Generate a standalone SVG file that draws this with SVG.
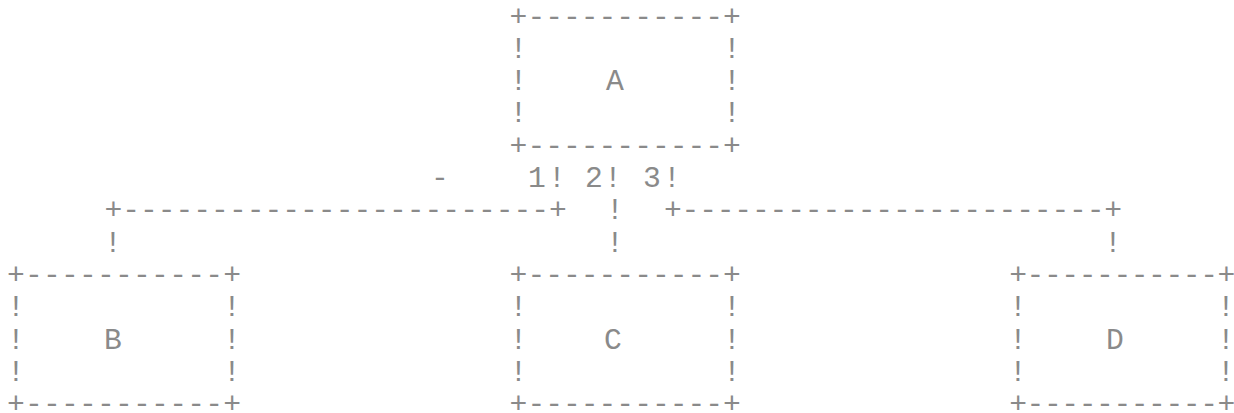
<svg xmlns="http://www.w3.org/2000/svg" width="1234" height="413" viewBox="0 0 1234 413">
<style>
text { font-family: "Liberation Mono", "DejaVu Sans Mono", monospace; font-size: 29.7px; fill: #8a8a8a; }
.m { text-anchor: middle; }
</style>
<rect width="1234" height="413" fill="#ffffff"/>
<g id="node-A">
<text x="509.6" y="25.5" textLength="231.3" lengthAdjust="spacing">+-----------+</text>
<text class="m" x="518.5" y="57.8">!</text>
<text class="m" x="732" y="57.8">!</text>
<text class="m" x="518.5" y="90.1">!</text>
<text class="m" x="732" y="90.1">!</text>
<text class="m" x="518.5" y="122.4">!</text>
<text class="m" x="732" y="122.4">!</text>
<text class="m" x="615" y="90.1">A</text>
<text x="509.6" y="154.7" textLength="231.3" lengthAdjust="spacing">+-----------+</text>
</g>
<g id="connectors">
<text class="m" x="440" y="187">-</text>
<text class="m" x="537 557" y="187">1!</text>
<text class="m" x="594 613" y="187">2!</text>
<text class="m" x="652 672" y="187">3!</text>
<text x="104.4" y="219.3" textLength="462.5" lengthAdjust="spacing">+------------------------+</text>
<text class="m" x="615" y="219.3">!</text>
<text x="663.9" y="219.3" textLength="458.2" lengthAdjust="spacing">+------------------------+</text>
<text class="m" x="113" y="251.6">!</text>
<text class="m" x="615" y="251.6">!</text>
<text class="m" x="1113" y="251.6">!</text>
</g>
<g id="node-B">
<text x="7" y="283.9" textLength="234" lengthAdjust="spacing">+-----------+</text>
<text class="m" x="16" y="316.2">!</text>
<text class="m" x="232" y="316.2">!</text>
<text class="m" x="16" y="348.5">!</text>
<text class="m" x="232" y="348.5">!</text>
<text class="m" x="16" y="380.8">!</text>
<text class="m" x="232" y="380.8">!</text>
<text class="m" x="113" y="348.5">B</text>
<text x="7" y="412.5" textLength="234" lengthAdjust="spacing">+-----------+</text>
</g>
<g id="node-C">
<text x="509.6" y="283.9" textLength="231.3" lengthAdjust="spacing">+-----------+</text>
<text class="m" x="518.5" y="316.2">!</text>
<text class="m" x="732" y="316.2">!</text>
<text class="m" x="518.5" y="348.5">!</text>
<text class="m" x="732" y="348.5">!</text>
<text class="m" x="518.5" y="380.8">!</text>
<text class="m" x="732" y="380.8">!</text>
<text class="m" x="613" y="348.5">C</text>
<text x="509.6" y="412.5" textLength="231.3" lengthAdjust="spacing">+-----------+</text>
</g>
<g id="node-D">
<text x="1009.2" y="283.9" textLength="226.2" lengthAdjust="spacing">+-----------+</text>
<text class="m" x="1018" y="316.2">!</text>
<text class="m" x="1226" y="316.2">!</text>
<text class="m" x="1018" y="348.5">!</text>
<text class="m" x="1226" y="348.5">!</text>
<text class="m" x="1018" y="380.8">!</text>
<text class="m" x="1226" y="380.8">!</text>
<text class="m" x="1115" y="348.5">D</text>
<text x="1009.2" y="412.5" textLength="226.2" lengthAdjust="spacing">+-----------+</text>
</g>
</svg>
